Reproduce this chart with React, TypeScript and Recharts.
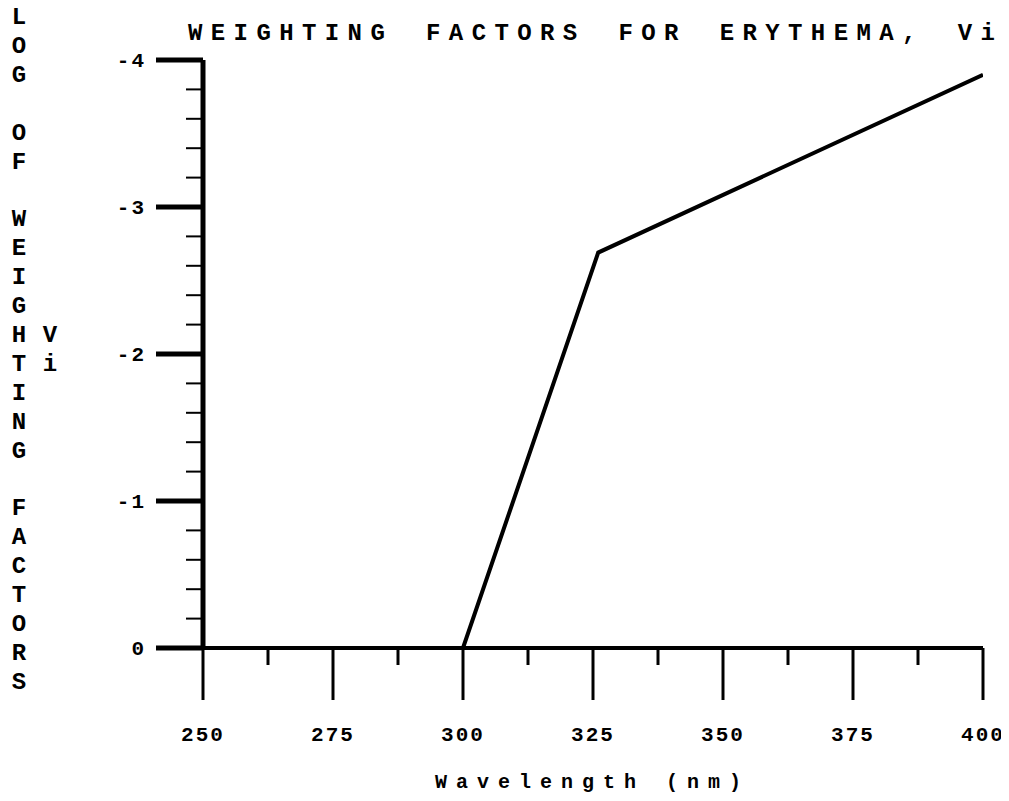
import React from 'react'
import { Line, LineChart, XAxis, YAxis } from 'recharts'

// values
const wavelength = [250, 300, 326, 400]
const logWeight = [0, 0, -2.69, -3.9]

const xMajorTicks = [250, 275, 300, 325, 350, 375, 400]
const xMinorTicks = [262.5, 287.5, 312.5, 337.5, 362.5, 387.5]
const yMajorTicks = [0, -1, -2, -3, -4]
const yMinorTicks = [
  -0.2, -0.4, -0.6, -0.8, -1.2, -1.4, -1.6, -1.8, -2.2, -2.4, -2.6, -2.8, -3.2, -3.4, -3.6, -3.8,
]

const title = 'WEIGHTING FACTORS FOR ERYTHEMA, Vi'
const yTitle = 'LOG OF WEIGHTING FACTORS'
const ySymbol = 'Vi'
const xTitle = 'Wavelength (nm)'

const data = wavelength.map((wl, i) => ({ wl, v: logWeight[i] }))

const mono = "'Liberation Mono', 'DejaVu Sans Mono', monospace"
const tickStyle = { fill: '#000', fontSize: 21, fontFamily: mono, fontWeight: 'bold', letterSpacing: 2 }

const W = 1000
const H = 785
const PITCH = 28.9

// stacked letters, one per row; a space leaves a blank row
const stacked = (text: string, x: number, y0: number, startRow = 0) =>
  text.split('').map((ch, i) =>
    ch === ' ' ? null : (
      <text key={i} x={x} y={y0 + (startRow + i) * PITCH} textAnchor="middle">
        {ch}
      </text>
    ),
  )

export default function App() {
  return (
    <div style={{ position: 'relative', width: W, height: H, background: '#fff' }}>
      <LineChart
        width={W}
        height={H}
        data={data}
        margin={{ top: 52, right: 25, bottom: 143, left: 193 }}
      >
        {/* axes need a non-zero size to draw; 1px keeps them on the plot edge */}
        <XAxis
          xAxisId="x"
          type="number"
          dataKey="wl"
          domain={[250, 400]}
          allowDataOverflow
          ticks={xMajorTicks}
          interval={0}
          height={1}
          tickSize={52}
          tickMargin={26}
          axisLine={{ stroke: '#000', strokeWidth: 4 }}
          tickLine={{ stroke: '#000', strokeWidth: 3 }}
          tick={tickStyle}
        />
        <XAxis
          xAxisId="xMinor"
          type="number"
          dataKey="wl"
          domain={[250, 400]}
          allowDataOverflow
          ticks={xMinorTicks}
          interval={0}
          height={1}
          tickSize={16}
          axisLine={false}
          tickLine={{ stroke: '#000', strokeWidth: 3 }}
          tickFormatter={() => ''}
        />
        <YAxis
          yAxisId="y"
          type="number"
          domain={[-4, 0]}
          reversed
          allowDataOverflow
          ticks={yMajorTicks}
          interval={0}
          width={1}
          tickSize={47}
          tickMargin={10}
          axisLine={{ stroke: '#000', strokeWidth: 5 }}
          tickLine={{ stroke: '#000', strokeWidth: 5 }}
          tick={tickStyle}
          tickFormatter={(v: number) => String(v)}
        />
        <YAxis
          yAxisId="yMinor"
          type="number"
          domain={[-4, 0]}
          reversed
          allowDataOverflow
          ticks={yMinorTicks}
          interval={0}
          width={1}
          tickSize={16}
          axisLine={false}
          tickLine={{ stroke: '#000', strokeWidth: 2 }}
          tickFormatter={() => ''}
        />
        <Line
          xAxisId="x"
          yAxisId="y"
          type="linear"
          dataKey="v"
          stroke="#000"
          strokeWidth={4}
          dot={false}
          isAnimationActive={false}
        />
      </LineChart>

      {/* overlay in page coordinates (offset back over the body margin) */}
      <svg
        width={1009}
        height={793}
        style={{ position: 'absolute', left: -8, top: -8, pointerEvents: 'none' }}
        fontFamily={mono}
        fontWeight="bold"
        fill="#000"
      >
        <text x={188} y={40} fontSize={24} letterSpacing={8.4} wordSpacing={10} xmlSpace="preserve">
          {title}
        </text>
        <g fontSize={24}>{stacked(yTitle, 19, 24)}</g>
        <g fontSize={24}>{stacked(ySymbol, 50, 24, 11)}</g>
        <text x={435} y={788} fontSize={20} letterSpacing={9}>
          {xTitle}
        </text>
      </svg>
    </div>
  )
}
